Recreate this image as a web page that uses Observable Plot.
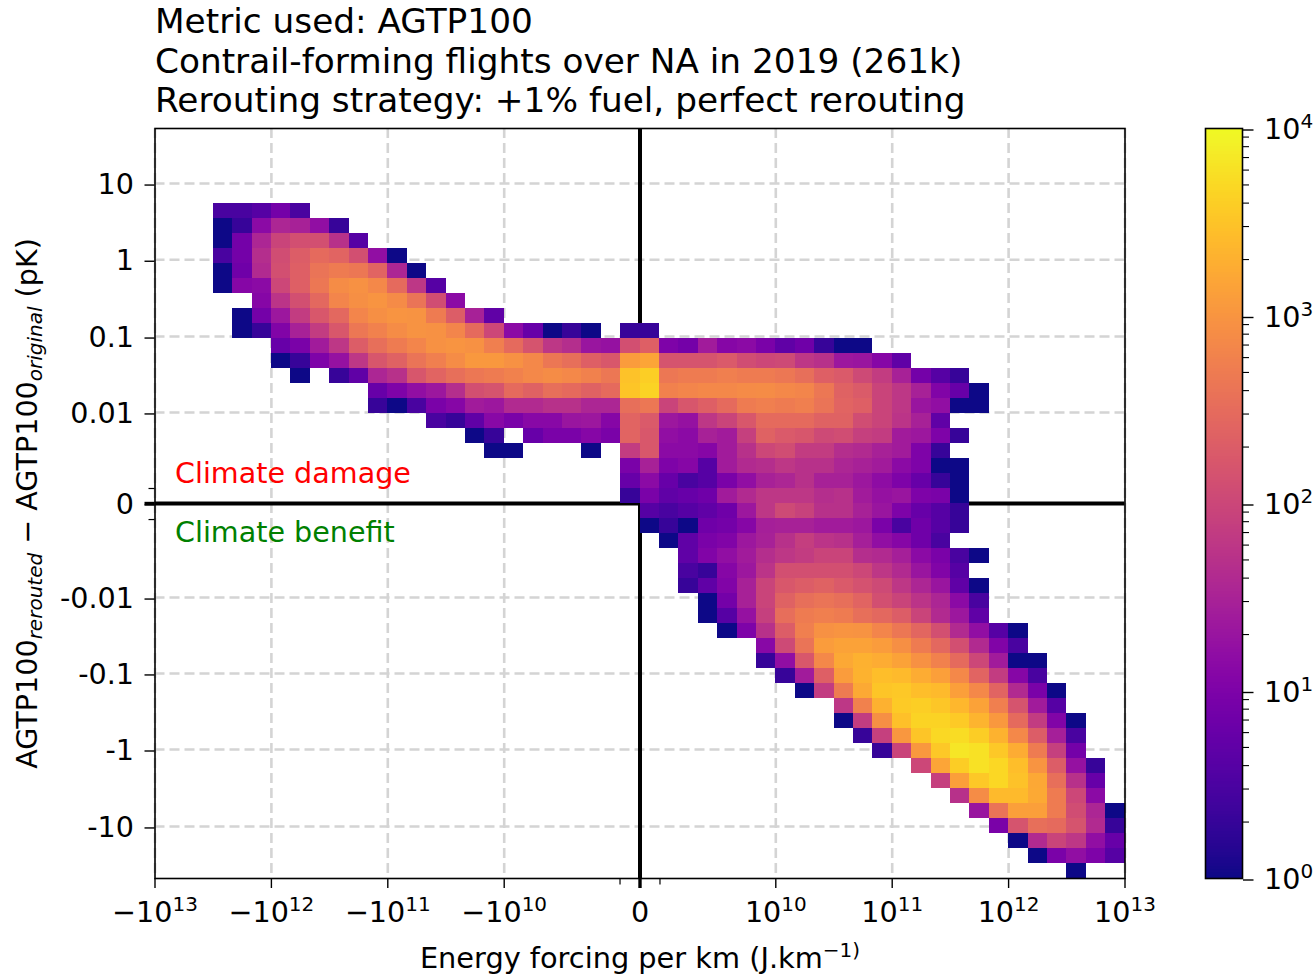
<!DOCTYPE html>
<html><head><meta charset="utf-8">
<script src="https://cdn.jsdelivr.net/npm/d3@7"></script>
<script src="https://cdn.jsdelivr.net/npm/@observablehq/plot@0.6"></script>
<style>
html,body{margin:0;padding:0;background:#fff;overflow:hidden}
#page{position:relative;width:1315px;height:974px;font-family:"DejaVu Sans",sans-serif}
#title{height:118px;padding-left:155px;padding-top:2px;box-sizing:border-box;font-size:34.3px;line-height:39.5px;color:#000;white-space:pre;margin:0}
#bar{position:absolute;left:1190px;top:98px}
svg{display:block}
</style></head><body>
<div id="page">
<div id="title"><div>Metric used: AGTP100</div><div>Contrail-forming flights over NA in 2019 (261k)</div><div>Rerouting strategy: +1% fuel, perfect rerouting</div></div>
<div id="main"></div>
<div id="bar"></div>
</div>
<script>
// Histogram: 50 x 50 bins. Row index from the top, column index from the left.
const firstRow = 5;
const rowStarts = [3,3,3,3,3,3,5,4,4,6,6,7,11,11,14,16,17,24,24,24,25,25,26,27,27,27,28,28,29,31,31,32,33,35,35,36,37,39,40,41,42,43,44,45,47];
const rowCounts = [
[3,3,4,8,3],
[1,2,14,35,30,16,2],
[1,8,35,90,130,130,50,4],
[3,8,45,120,200,300,250,130,16,1],
[1,7,40,130,220,400,500,450,250,35,1],
[1,12,14,100,220,450,800,900,700,300,60,4],
[12,55,130,280,650,850,1000,750,400,120,14],
[1,8,22,70,170,280,650,850,1000,950,500,200,30,5],
[1,2,11,30,70,170,450,600,800,950,900,650,300,100,14,6,1,2,1,0,2,2],
[6,9,25,60,200,350,500,650,900,1000,900,550,300,150,60,45,20,18,130,220,10,8,25,12,14,9,5,7,2,1,1],
[1,2,10,18,60,160,230,400,550,800,1100,1100,900,700,450,350,220,170,1200,1500,150,150,150,180,120,100,110,60,50,22,20,12,5],
[1,0,2,5,35,50,160,250,350,450,500,600,700,800,700,600,450,3000,4000,450,500,500,550,500,500,450,350,220,180,110,70,30,8,4,2],
[6,10,16,22,45,130,150,300,230,350,300,230,300,3200,4500,600,650,700,700,750,800,700,650,450,230,190,90,60,30,11,6,1],
[2,1,3,9,12,25,22,40,40,50,50,35,35,350,450,90,160,220,300,500,550,500,550,400,250,220,90,60,20,16,1,1],
[3,2,5,13,9,13,13,20,22,12,250,180,22,18,60,90,170,300,300,300,230,230,120,90,55,30,5],
[1,2,0,6,9,9,12,9,250,170,16,14,30,25,80,230,180,160,110,120,80,70,25,22,10,2],
[1,1,0,0,0,1,0,70,170,14,14,12,25,50,100,120,70,70,45,40,30,25,10,2],
[9,30,10,12,4,25,40,45,60,50,50,35,30,25,14,10,1,1],
[6,14,6,3,4,9,16,30,35,50,30,30,22,15,10,6,2,1],
[2,9,5,6,7,25,40,60,60,60,45,50,25,18,20,10,9,1],
[4,3,4,5,7,22,60,110,85,50,50,30,20,10,6,4,2],
[1,2,1,7,8,12,28,30,30,25,25,22,9,3,7,4,2],
[1,5,9,11,22,30,50,75,55,50,28,16,12,7,3],
[5,11,16,25,45,60,70,90,90,45,40,28,14,9,3,1],
[3,2,12,22,55,130,130,130,130,100,60,40,20,11,4],
[2,5,11,30,90,170,200,230,180,140,110,60,35,20,5,1],
[1,8,30,90,230,340,400,350,250,130,90,55,35,14,3],
[1,4,18,80,330,500,550,500,350,280,200,90,40,22,5],
[1,10,50,200,550,900,1000,950,650,450,270,130,40,16,4,1],
[13,110,400,1200,1400,1400,1200,850,500,280,130,40,11,3],
[2,16,170,700,1600,2000,1800,1400,900,600,300,100,25,1,1],
[2,25,220,1200,2100,2800,2500,1800,1300,700,250,70,12,3],
[1,70,500,1700,3200,3400,2800,2500,1300,700,250,40,9,1],
[60,600,2000,3600,4000,3300,2300,1400,550,150,25,4],
[1,70,850,2900,4400,4500,3600,2200,1100,300,70,11,1],
[2,80,1050,3200,5000,5300,3800,2100,700,200,28,3],
[2,90,1100,3500,6500,6000,3400,1800,500,80,8],
[100,1500,3800,6000,4700,2800,1000,200,18,2],
[80,1300,3500,4700,3000,1600,350,50,6],
[50,800,2500,2500,1700,500,100,14],
[20,400,1300,1300,500,120,35,1],
[9,150,350,300,150,40,2],
[1,40,90,60,16,6],
[1,9,16,10,4],
[1]
];
// Axis ticks, located on the bin grid of the symlog axes
const xTickBins   = [0,6,12,18,25,32,38,44,50];
const xTickLabels = ["−10^13","−10^12","−10^11","−10^10","0","10^10","10^11","10^12","10^13"];
const xMinorBins  = [23.97,26.03];
const yTickBins   = [3.67,8.75,13.87,18.93,25,31.27,36.33,41.4,46.53];
const yTickLabels = ["10","1","0.1","0.01","0","-0.01","-0.1","-1","-10"];
const yMinorBins  = [24,26.07];
const barMajor = [1,10,100,1000,10000];
const barLabels = ["10^0","10^1","10^2","10^3","10^4"];
const barMinor = [2,3,4,5,6,7,8,9,20,30,40,50,60,70,80,90,200,300,400,500,600,700,800,900,2000,3000,4000,5000,6000,7000,8000,9000];

const cells = rowCounts.flatMap((vals,i)=>vals.map((count,k)=>({row:firstRow+i,col:rowStarts[i]+k,count})).filter(d=>d.count>0));
const colorScale = {type:"log",domain:[1,1e4],scheme:"plasma"};
const font = "DejaVu Sans";
const gridStyle = {stroke:"#d4d4d4",strokeWidth:2.6,strokeDasharray:"10,5"};

const main = Plot.plot({
  width:1315,height:856,marginTop:10,marginBottom:96,marginLeft:154.5,marginRight:190.5,
  style:{fontFamily:font,background:"#fff"},
  x:{domain:[0,50],label:null},
  y:{domain:[50,0],label:null},
  color:colorScale,
  marks:[
    Plot.ruleX(xTickBins.filter(d=>d!==25),{...gridStyle}),
    Plot.ruleY(yTickBins.filter(d=>d!==25),{...gridStyle}),
    Plot.ruleX([25],{stroke:"#000",strokeWidth:4}),
    Plot.ruleY([25],{stroke:"#000",strokeWidth:4}),
    Plot.rect(cells,{x1:"col",x2:d=>d.col+1,y1:"row",y2:d=>d.row+1,fill:"count",inset:0,shapeRendering:"crispEdges"}),
    Plot.frame({stroke:"#000",strokeWidth:1.6}),
    Plot.axisX(xTickBins,{anchor:"bottom",tickSize:10,tickPadding:13,fontSize:28.6,tickFormat:(d,i)=>xTickLabels[i],strokeWidth:1.4,stroke:"#000",fill:"#000",label:null,fontVariant:"normal"}),
    Plot.axisX(xMinorBins,{anchor:"bottom",tickSize:6.5,tickFormat:()=>"",strokeWidth:1.2,stroke:"#000",label:null}),
    Plot.axisX([25],{anchor:"bottom",tickSize:10,tickFormat:()=>"",strokeWidth:3.4,stroke:"#000",label:null}),
    Plot.axisY(yTickBins,{anchor:"left",tickSize:10,tickPadding:11,fontSize:28.6,dy:1.5,tickFormat:(d,i)=>yTickLabels[i],strokeWidth:1.4,stroke:"#000",fill:"#000",label:null,fontVariant:"normal"}),
    Plot.axisY(yMinorBins,{anchor:"left",tickSize:6,tickFormat:()=>"",strokeWidth:1.2,stroke:"#000",label:null}),
    Plot.axisY([25],{anchor:"left",tickSize:10,tickFormat:()=>"",strokeWidth:3.4,stroke:"#000",label:null}),
    Plot.text(["Climate damage"],{x:1.03,y:23,text:d=>d,textAnchor:"start",fontSize:28.6,fill:"red"}),
    Plot.text(["Climate benefit"],{x:1.03,y:26.95,text:d=>d,textAnchor:"start",fontSize:28.6,fill:"green"}),
    Plot.text(["Energy forcing per km (J.km^−1)"],{x:25,y:50,dy:80,text:d=>d,textAnchor:"middle",fontSize:28.8,fill:"#000",className:"xlabel"}),
    Plot.text(["AGTP100"],{x:0,y:25,dx:-127,rotate:-90,text:d=>d,textAnchor:"middle",fontSize:28.6,fill:"#000",className:"ylabel"})
  ]
});
document.getElementById("main").appendChild(main);

const barLevels = d3.range(256).map(i=>({v1:Math.pow(10,4*i/256),v2:Math.pow(10,4*(i+1)/256),c:Math.pow(10,4*(i+.5)/256)}));
const bar = Plot.plot({
  width:125,height:876,marginTop:30,marginBottom:96,marginLeft:15,marginRight:73,
  style:{fontFamily:font,background:"transparent"},
  x:{domain:[0,1],axis:null},
  y:{type:"log",domain:[1,1e4],label:null,axis:null},
  color:colorScale,
  marks:[
    Plot.rect(barLevels,{x1:0,x2:1,y1:"v1",y2:"v2",fill:"c",shapeRendering:"crispEdges"}),
    Plot.frame({stroke:"#000",strokeWidth:1.6}),
    Plot.axisY(barMajor,{anchor:"right",tickSize:10.5,tickPadding:11,fontSize:28.6,dy:1.5,tickFormat:d=>barLabels[barMajor.indexOf(d)],strokeWidth:1.4,stroke:"#000",fill:"#000",label:null,fontVariant:"normal"}),
    Plot.axisY(barMinor,{anchor:"right",tickSize:6,tickFormat:()=>"",strokeWidth:1.1,stroke:"#000",label:null})
  ]
});
document.getElementById("bar").appendChild(bar);

// Mathtext-style super- and subscripts, kept as real text
function rich(el,parts){
  el.textContent="";
  let shift=0;
  parts.forEach(p=>{
    const t=document.createElementNS("http://www.w3.org/2000/svg","tspan");
    t.textContent=p.t;
    const target=p.dy||0;
    const dy=target-shift;
    if(dy) t.setAttribute("dy",dy);
    shift=target;
    if(p.size) t.setAttribute("font-size",p.size);
    if(p.italic) t.setAttribute("font-style","italic");
    el.appendChild(t);
  });
}
document.querySelectorAll("svg text").forEach(el=>{
  const s=el.textContent;
  if(s==="AGTP100"){
    rich(el,[{t:"AGTP100"},{t:"rerouted",size:20,italic:true,dy:5},{t:" − AGTP100"},{t:"original",size:20,italic:true,dy:5},{t:" (pK)"}]);
  } else if(s.includes("^")){
    const [a,b]=s.split("^");
    rich(el,[{t:a},{t:b,size:20,dy:-11}]);
  }
});
</script>
</body></html>
